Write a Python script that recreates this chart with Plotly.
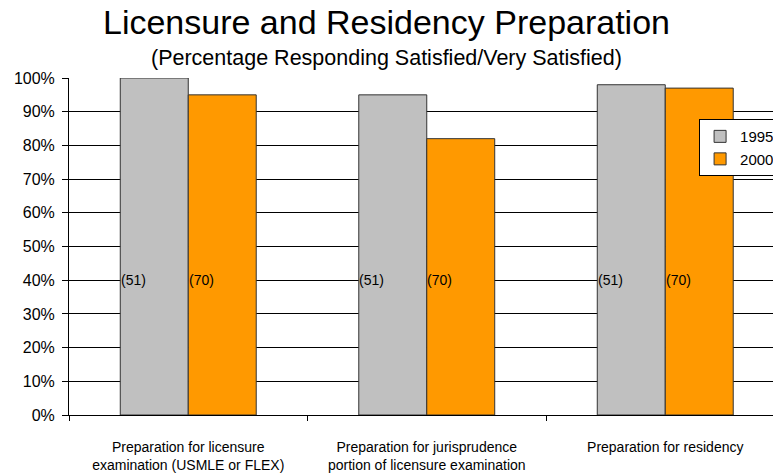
import plotly.graph_objects as go

# Survey items (x categories)
categories = [
    "Preparation for licensure<br>examination (USMLE or FLEX)",
    "Preparation for jurisprudence<br>portion of licensure examination",
    "Preparation for residency",
]

# Share responding satisfied / very satisfied
pct_1995 = [1.00, 0.95, 0.98]
pct_2000 = [0.95, 0.82, 0.97]

# Number of respondents per group
n_1995 = [51, 51, 51]
n_2000 = [70, 70, 70]

y_ticks = [i / 10 for i in range(11)]

FONT = "Liberation Sans, Arial, sans-serif"
GRAY = "#C0C0C0"
ORANGE = "#FF9900"
EDGE = "#333333"

fig = go.Figure()
fig.add_trace(go.Bar(
    x=categories, y=pct_1995, name="1995",
    marker=dict(color=GRAY, line=dict(color=EDGE, width=1)),
))
fig.add_trace(go.Bar(
    x=categories, y=pct_2000, name="2000",
    marker=dict(color=ORANGE, line=dict(color=EDGE, width=1)),
))

# Respondent counts written inside the bars
bargap = 0.43
bar_w = (1 - bargap) / 2
for i in range(len(categories)):
    for offset, n in ((-bar_w / 2, n_1995[i]), (bar_w / 2, n_2000[i])):
        fig.add_annotation(
            x=i + offset, y=0.40, xref="x", yref="y",
            text=f"({n})", showarrow=False, xshift=-21,
            font=dict(family=FONT, size=14, color="black"),
        )

fig.add_annotation(
    x=0.4503, y=1.059, xref="paper", yref="paper",
    text="(Percentage Responding Satisfied/Very Satisfied)",
    showarrow=False, yanchor="middle",
    font=dict(family=FONT, size=21.5, color="black"),
)

fig.update_layout(
    width=773, height=474,
    margin=dict(l=69, r=0, t=78, b=59, autoexpand=False),
    paper_bgcolor="white", plot_bgcolor="white",
    barmode="group", bargap=bargap, bargroupgap=0,
    font=dict(family=FONT, color="black"),
    title=dict(
        text="Licensure and Residency Preparation",
        x=0.5, xref="container", xanchor="center",
        y=1 - 22 / 474, yref="container", yanchor="middle",
        font=dict(family=FONT, size=34, color="black"),
    ),
    legend=dict(
        x=0.895, y=0.878, xanchor="left", yanchor="top",
        xref="paper", yref="paper",
        bgcolor="white", bordercolor="black", borderwidth=1,
        font=dict(family=FONT, size=15, color="black"),
        traceorder="normal",
    ),
    showlegend=True,
)

fig.update_xaxes(
    type="category", categoryorder="array", categoryarray=categories,
    range=[-0.5, -0.5 + 704 / 238.5],
    tickson="boundaries", ticks="outside", ticklen=5, tickcolor="black",
    showline=True, linecolor="black", linewidth=1,
    showgrid=False, tickfont=dict(family=FONT, size=14, color="black"),
    ticklabelstandoff=19, automargin=False,
)
fig.update_yaxes(
    range=[0, 1], tickvals=y_ticks, tickformat=".0%",
    ticks="outside", ticklen=6, tickcolor="black",
    showline=True, linecolor="black", linewidth=1,
    showgrid=True, gridcolor="black", gridwidth=1,
    zeroline=False, automargin=False,
    tickfont=dict(family=FONT, size=16, color="black"),
    ticklabelstandoff=4,
)

fig.write_html("out.html")
